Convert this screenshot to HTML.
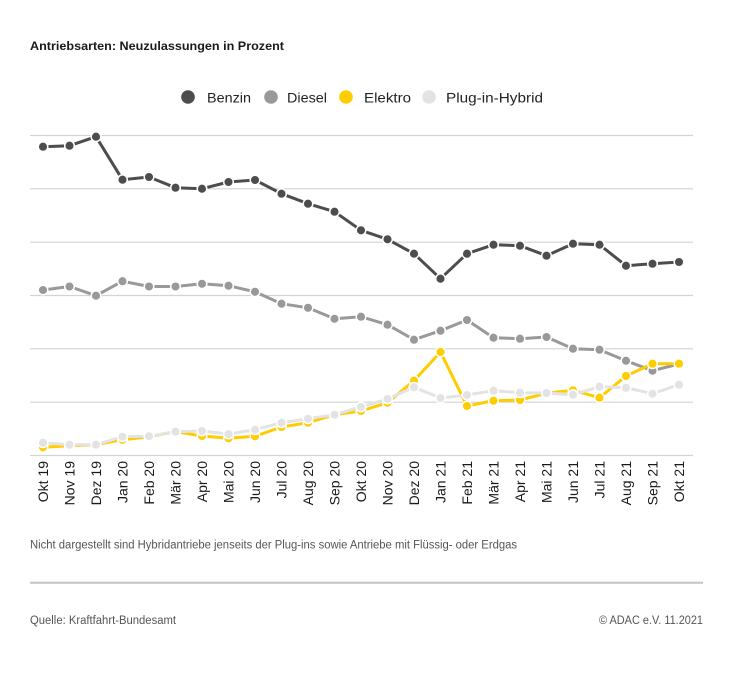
<!DOCTYPE html>
<html>
<head>
<meta charset="utf-8">
<style>
  html, body { margin: 0; padding: 0; background: #ffffff; }
  svg { display: block; font-family: "Liberation Sans", sans-serif; }
</style>
</head>
<body>
<svg width="734" height="689" viewBox="0 0 734 689" xmlns="http://www.w3.org/2000/svg">
  <rect width="734" height="689" fill="#ffffff"/>

  <!-- Title -->
  <text x="30" y="50" font-size="12" font-weight="bold" fill="#1a1a1a" textLength="254" lengthAdjust="spacingAndGlyphs">Antriebsarten: Neuzulassungen in Prozent</text>

  <!-- Legend -->
  <circle cx="188" cy="97" r="6.8" fill="#4d4d4d"/>
  <text x="207" y="102.3" font-size="14" fill="#222" textLength="44" lengthAdjust="spacingAndGlyphs">Benzin</text>
  <circle cx="271" cy="97" r="6.8" fill="#999999"/>
  <text x="287" y="102.3" font-size="14" fill="#222" textLength="40" lengthAdjust="spacingAndGlyphs">Diesel</text>
  <circle cx="346" cy="97" r="6.8" fill="#ffcc00"/>
  <text x="364" y="102.3" font-size="14" fill="#222" textLength="47" lengthAdjust="spacingAndGlyphs">Elektro</text>
  <circle cx="429" cy="97" r="6.8" fill="#e3e3e3"/>
  <text x="446" y="102.3" font-size="14" fill="#222" textLength="97" lengthAdjust="spacingAndGlyphs">Plug-in-Hybrid</text>

  <!-- Grid -->
  <g stroke="#d3d3d3" stroke-width="1.2">
    <line x1="30" y1="135.5" x2="693" y2="135.5"/>
    <line x1="30" y1="188.8" x2="693" y2="188.8"/>
    <line x1="30" y1="242.2" x2="693" y2="242.2"/>
    <line x1="30" y1="295.5" x2="693" y2="295.5"/>
    <line x1="30" y1="348.8" x2="693" y2="348.8"/>
    <line x1="30" y1="402.2" x2="693" y2="402.2"/>
    <line x1="30" y1="455.5" x2="693" y2="455.5"/>
  </g>

  <!-- Series -->
  <g id="series"></g>

  <!-- X labels -->
  <g id="xlabels" font-size="14" fill="#1a1a1a"></g>

  <!-- Footnote -->
  <text x="30" y="548.3" font-size="11.5" fill="#555" textLength="487" lengthAdjust="spacingAndGlyphs">Nicht dargestellt sind Hybridantriebe jenseits der Plug-ins sowie Antriebe mit Flüssig- oder Erdgas</text>

  <!-- Footer -->
  <line x1="30" y1="582.7" x2="703" y2="582.7" stroke="#c4c4c4" stroke-width="2"/>
  <text x="30" y="624" font-size="11.5" fill="#555" textLength="146" lengthAdjust="spacingAndGlyphs">Quelle: Kraftfahrt-Bundesamt</text>
  <text x="703" y="624" font-size="11.5" fill="#555" text-anchor="end" textLength="104" lengthAdjust="spacingAndGlyphs">© ADAC e.V. 11.2021</text>
</svg>

<script>
(function(){
  var NS = "http://www.w3.org/2000/svg";
  var xs = []; for (var i = 0; i < 25; i++) xs.push(43 + i * 26.5);
  var series = [
    {c:"#4d4d4d", y:[146.7,145.7,136.7,179.7,177,187.7,188.7,182,180,193.7,203.7,211.7,230.3,239.3,253.7,278.7,253.7,244.7,245.7,255.7,243.7,244.7,265.7,263.7,262]},
    {c:"#999999", y:[290,286.5,295.7,281.2,286.5,286.5,283.8,285.7,291.8,303.7,307.8,318.8,316.7,324.7,339.7,330.7,320,337.7,338.7,337,348.7,349.7,360.7,370.7,364]},
    {c:"#ffcc00", y:[447.3,445.7,444.7,439.7,436.7,431.7,436,438.3,436.3,427,422.7,414.7,411,402.7,380.7,352,406,400.7,400,393.3,390.3,397.7,376,363.7,363.7]},
    {c:"#e3e3e3", y:[442.7,444.7,444.7,436.7,436.3,431.7,431,434,429.7,422.7,418.7,414.7,407,399,387.3,398,395,390.7,392.7,393,394.7,386.7,387.7,393.7,384.7]}
  ];
  var g = document.getElementById("series");
  series.forEach(function(s){
    var pts = s.y.map(function(y,i){return xs[i].toFixed(1)+","+y;}).join(" ");
    var pl = document.createElementNS(NS,"polyline");
    pl.setAttribute("points", pts);
    pl.setAttribute("fill","none");
    pl.setAttribute("stroke", s.c);
    pl.setAttribute("stroke-width","3");
    pl.setAttribute("stroke-linejoin","round");
    g.appendChild(pl);
    s.y.forEach(function(y,i){
      var c = document.createElementNS(NS,"circle");
      c.setAttribute("cx", xs[i]); c.setAttribute("cy", y); c.setAttribute("r", "4.8");
      c.setAttribute("fill", s.c); c.setAttribute("stroke","#ffffff"); c.setAttribute("stroke-width","1.5");
      g.appendChild(c);
    });
  });
  var labels = ["Okt 19","Nov 19","Dez 19","Jan 20","Feb 20","Mär 20","Apr 20","Mai 20","Jun 20","Jul 20","Aug 20","Sep 20","Okt 20","Nov 20","Dez 20","Jan 21","Feb 21","Mär 21","Apr 21","Mai 21","Jun 21","Jul 21","Aug 21","Sep 21","Okt 21"];
  var xl = document.getElementById("xlabels");
  labels.forEach(function(t,i){
    var tx = document.createElementNS(NS,"text");
    tx.setAttribute("transform","translate("+(xs[i]+5)+",461) rotate(-90)");
    tx.setAttribute("text-anchor","end");
    tx.textContent = t;
    xl.appendChild(tx);
  });
})();
</script>
</body>
</html>
